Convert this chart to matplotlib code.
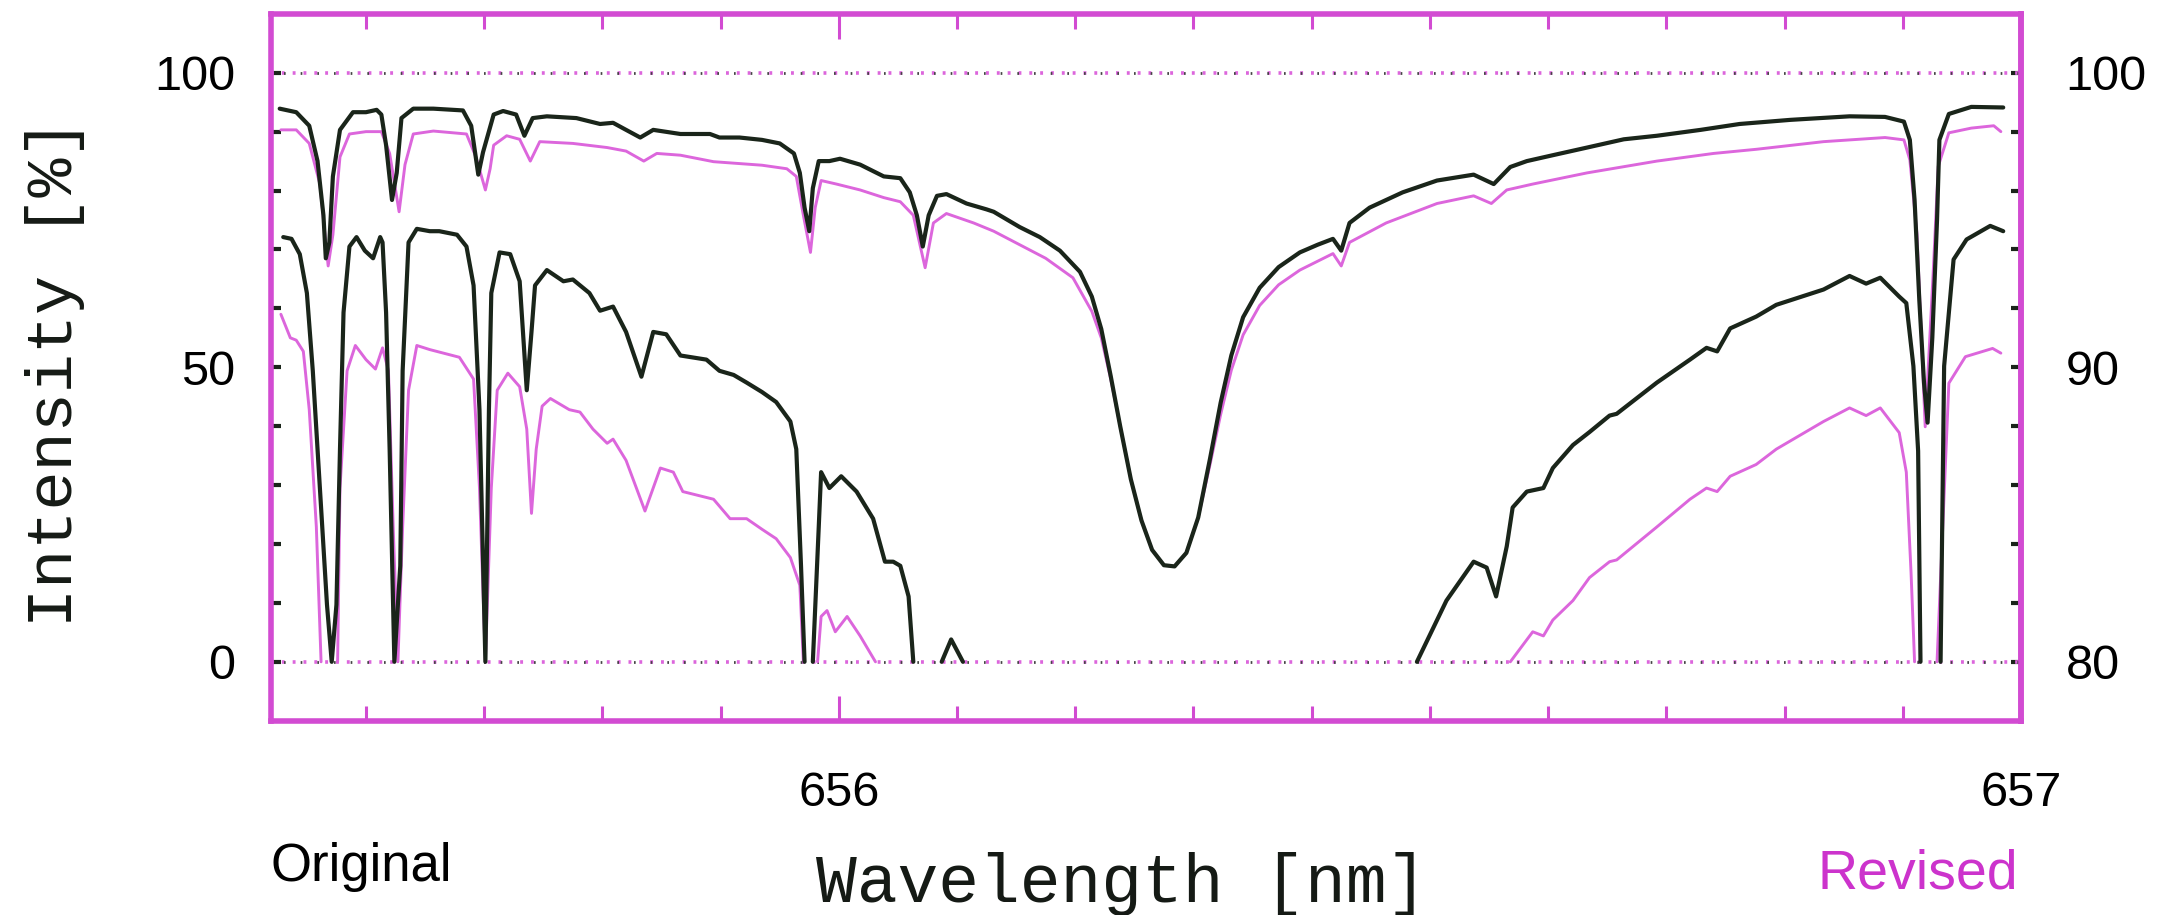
import numpy as np
import matplotlib.pyplot as plt

# H-alpha spectrum.
# upper curves: intensity in % (left axis)
upper_black = [
    (655.527, 93.9), (655.541, 93.3), (655.552, 91.0), (655.559, 85.0), (655.564, 75.8),
    (655.566, 68.5), (655.569, 71.2), (655.572, 82.4), (655.578, 90.3), (655.589, 93.3),
    (655.600, 93.3), (655.609, 93.7), (655.613, 92.9), (655.617, 87.7), (655.622, 78.4),
    (655.626, 83.0), (655.630, 92.3), (655.640, 93.9), (655.657, 93.9), (655.682, 93.6),
    (655.689, 91.0), (655.695, 82.7), (655.699, 86.5), (655.708, 92.9), (655.716, 93.5),
    (655.727, 92.9), (655.734, 89.3), (655.741, 92.3), (655.753, 92.6), (655.778, 92.3),
    (655.798, 91.3), (655.809, 91.5), (655.820, 90.3), (655.832, 89.0), (655.843, 90.3),
    (655.866, 89.6), (655.891, 89.6), (655.899, 89.0), (655.916, 89.0), (655.935, 88.6),
    (655.950, 88.0), (655.962, 86.3), (655.967, 83.0), (655.971, 77.1), (655.975, 73.1),
    (655.978, 80.4), (655.983, 85.0), (655.992, 85.0), (656.001, 85.4), (656.018, 84.4),
    (656.038, 82.4), (656.052, 82.1), (656.060, 79.7), (656.066, 75.8), (656.071, 70.5),
    (656.076, 75.8), (656.083, 79.1), (656.091, 79.4), (656.108, 77.8), (656.125, 76.8),
    (656.131, 76.4), (656.153, 73.8), (656.170, 72.1), (656.187, 69.8), (656.204, 66.2),
    (656.214, 62.0), (656.222, 56.5), (656.230, 48.5), (656.238, 40.0), (656.247, 31.0),
    (656.256, 24.0), (656.265, 19.0), (656.275, 16.4), (656.284, 16.2), (656.294, 18.5),
    (656.304, 24.5), (656.314, 34.5), (656.323, 44.0), (656.332, 52.0), (656.342, 58.5),
    (656.356, 63.5), (656.372, 67.0), (656.390, 69.5), (656.405, 70.8), (656.418, 71.8),
    (656.425, 69.8), (656.432, 74.5),
    (656.449, 77.1), (656.477, 79.7), (656.506, 81.7), (656.537, 82.7), (656.554, 81.1),
    (656.568, 84.0), (656.582, 85.0), (656.604, 86.0), (656.633, 87.3), (656.664, 88.7),
    (656.692, 89.3), (656.729, 90.3), (656.762, 91.3), (656.805, 92.0), (656.855, 92.6),
    (656.885, 92.5), (656.901, 91.7), (656.906, 88.6), (656.910, 78.4), (656.914, 61.4),
    (656.918, 47.3), (656.921, 40.6), (656.925, 55.0), (656.929, 75.0), (656.931, 88.6),
    (656.939, 93.0), (656.958, 94.2), (656.985, 94.1),
]

upper_magenta = [
    (655.528, 90.3), (655.541, 90.3), (655.552, 88.0), (655.561, 81.1), (655.568, 67.2),
    (655.572, 72.5), (655.578, 85.7), (655.586, 89.6), (655.600, 90.0), (655.613, 90.0),
    (655.620, 86.3), (655.628, 76.4), (655.633, 84.4), (655.640, 89.6), (655.657, 90.1),
    (655.685, 89.6), (655.693, 85.7), (655.701, 80.1), (655.705, 83.7), (655.708, 87.7),
    (655.719, 89.3), (655.730, 88.7), (655.739, 85.0), (655.747, 88.3), (655.775, 88.0),
    (655.804, 87.3), (655.820, 86.7), (655.835, 85.0), (655.846, 86.3), (655.866, 86.0),
    (655.894, 84.9), (655.935, 84.3), (655.956, 83.7), (655.964, 82.4), (655.970, 75.8),
    (655.976, 69.5), (655.980, 77.1), (655.985, 81.7), (655.998, 81.1), (656.018, 80.1),
    (656.038, 78.8), (656.052, 78.1), (656.063, 75.8), (656.073, 66.9), (656.080, 74.5),
    (656.091, 76.1), (656.114, 74.5), (656.131, 73.1), (656.153, 70.8), (656.175, 68.5),
    (656.198, 65.2), (656.214, 59.5), (656.222, 55.0), (656.230, 48.0), (656.238, 40.0),
    (656.247, 31.0), (656.256, 24.0), (656.265, 19.0), (656.275, 16.4), (656.284, 16.2),
    (656.294, 18.5), (656.304, 24.5), (656.314, 33.5), (656.323, 42.0), (656.332, 49.5),
    (656.342, 55.5), (656.356, 60.5), (656.372, 64.0), (656.390, 66.5), (656.405, 68.0),
    (656.418, 69.3), (656.425, 67.2), (656.432, 71.2), (656.463, 74.5),
    (656.506, 77.8), (656.537, 79.1), (656.552, 77.8), (656.565, 80.1), (656.587, 81.1),
    (656.633, 83.0), (656.692, 85.0), (656.740, 86.3), (656.776, 87.0), (656.833, 88.3),
    (656.885, 89.0), (656.901, 88.6), (656.906, 85.2), (656.912, 72.7), (656.919, 39.9),
    (656.926, 67.1), (656.930, 84.1), (656.939, 89.8), (656.958, 90.6), (656.977, 91.0),
    (656.983, 90.0),
]

# lower curves: same spectrum on the magnified 80-100 % scale (right axis),
# stored in left-axis units as drawn; nan = off scale (below 80 %)
nan = np.nan
lower_black = [
    (655.530, 72.1), (655.537, 71.8), (655.544, 69.2), (655.550, 62.6), (655.555, 49.4),
    (655.561, 29.5), (655.567, 9.7), (655.571, 0.0), (655.575, 9.7), (655.578, 36.1),
    (655.581, 59.3), (655.586, 70.5), (655.592, 72.1), (655.599, 69.8), (655.606, 68.5),
    (655.612, 72.1), (655.614, 71.2), (655.617, 59.3), (655.620, 36.1), (655.624, 0.0),
    (655.629, 16.3), (655.631, 49.4), (655.636, 71.2), (655.643, 73.5), (655.654, 73.1),
    (655.662, 73.1), (655.677, 72.5), (655.685, 70.5), (655.691, 63.9), (655.696, 42.8),
    (655.701, 0.0), (655.704, 42.8), (655.706, 62.6), (655.713, 69.5), (655.722, 69.2),
    (655.730, 64.6), (655.736, 46.1), (655.740, 56.0), (655.743, 63.9), (655.753, 66.5),
    (655.767, 64.6), (655.775, 64.9), (655.789, 62.6), (655.798, 59.6), (655.809, 60.3),
    (655.820, 56.0), (655.833, 48.4), (655.843, 56.0), (655.854, 55.6), (655.866, 52.0),
    (655.888, 51.3), (655.899, 49.4), (655.911, 48.7), (655.922, 47.4), (655.935, 45.8),
    (655.947, 44.1), (655.959, 40.8), (655.964, 36.1), (655.968, 16.3), (655.971, 0.0),
    (655.975, nan), (655.978, 0.0), (655.983, 22.9), (655.985, 32.2), (655.992, 29.5),
    (656.002, 31.5), (656.015, 28.9), (656.029, 24.3), (656.039, 17.0), (656.046, 17.0),
    (656.052, 16.3), (656.059, 11.1), (656.063, 0.0), (656.075, nan), (656.087, 0.0),
    (656.095, 3.8), (656.105, 0.0), (656.300, nan), (656.489, 0.0), (656.514, 10.4),
    (656.537, 17.0), (656.548, 16.0), (656.556, 11.1), (656.565, 19.6), (656.570, 26.2),
    (656.582, 28.9), (656.596, 29.5), (656.604, 32.9), (656.621, 36.8), (656.635, 39.0),
    (656.652, 41.8), (656.658, 42.1), (656.692, 47.4), (656.720, 51.3), (656.734, 53.3),
    (656.743, 52.7), (656.754, 56.6), (656.776, 58.6), (656.793, 60.6), (656.833, 63.2),
    (656.855, 65.5), (656.869, 64.2), (656.881, 65.2), (656.897, 62.0), (656.903, 60.9),
    (656.909, 50.2), (656.913, 35.8), (656.915, 0.0), (656.924, nan), (656.932, 0.0),
    (656.935, 50.2), (656.943, 68.3), (656.954, 71.7), (656.974, 74.0), (656.985, 73.1),
]

lower_magenta = [
    (655.528, 59.0), (655.536, 55.0), (655.541, 54.6), (655.547, 52.7), (655.552, 42.8),
    (655.558, 22.9), (655.562, 0.0), (655.569, nan), (655.576, 0.0), (655.578, 29.5),
    (655.584, 49.4), (655.591, 53.7), (655.600, 51.3), (655.608, 49.7), (655.614, 53.3),
    (655.619, 49.4), (655.623, 22.9), (655.627, 0.0), (655.631, 22.9), (655.636, 46.1),
    (655.643, 53.7), (655.654, 53.0), (655.679, 51.7), (655.691, 48.0), (655.696, 29.5),
    (655.701, 0.0), (655.706, 29.5), (655.711, 46.1), (655.720, 49.0), (655.730, 46.7),
    (655.736, 39.5), (655.740, 25.2), (655.744, 36.1), (655.749, 43.4), (655.756, 44.7),
    (655.772, 42.8), (655.781, 42.4), (655.792, 39.5), (655.804, 37.1), (655.809, 37.8),
    (655.820, 34.2), (655.836, 25.6), (655.849, 32.9), (655.860, 32.2), (655.868, 28.9),
    (655.894, 27.6), (655.908, 24.3), (655.922, 24.3), (655.935, 22.5), (655.947, 20.9),
    (655.959, 17.7), (655.967, 13.0), (655.970, 0.0), (655.976, nan), (655.982, 0.0),
    (655.985, 7.7), (655.990, 8.7), (655.997, 5.1), (656.007, 7.7), (656.018, 4.4),
    (656.031, 0.0), (656.300, nan), (656.568, 0.0), (656.587, 5.1), (656.596, 4.4),
    (656.604, 7.1), (656.621, 10.4), (656.635, 14.3), (656.652, 17.0), (656.658, 17.3),
    (656.692, 22.9), (656.720, 27.6), (656.734, 29.5), (656.743, 28.9), (656.754, 31.5),
    (656.776, 33.5), (656.793, 36.1), (656.833, 40.8), (656.855, 43.1), (656.869, 41.8),
    (656.881, 43.1), (656.897, 38.9), (656.903, 32.2), (656.907, 15.2), (656.910, 0.0),
    (656.920, nan), (656.929, 0.0), (656.939, 47.3), (656.953, 51.8), (656.976, 53.2),
    (656.983, 52.4),
]

x_major = [656, 657]
x_minor = [655.6, 655.7, 655.8, 655.9, 656.1, 656.2, 656.3, 656.4, 656.5, 656.6, 656.7, 656.8, 656.9]
y_major = [0, 50, 100]
y_right_major = [80, 90, 100]

BLACK = '#1a251a'
MAG = '#dc66dc'
FRAME = '#d24bd2'
TEXT_MAG = '#cc33cc'

fig = plt.figure(figsize=(21.61, 9.15), dpi=100)
ax = fig.add_axes([0.1256, 0.2123, 0.8096, 0.7726])

# reference lines at 0 and 100 (dotted, mixed black / magenta like the scan)
for lev in (0, 100):
    ax.axhline(lev, color=MAG, lw=2.6, ls=(0, (0.8, 2.2)))
    ax.axhline(lev, color='#444444', lw=2.0, ls=(1.5, (0.6, 5.4)))

for data, col, lw in ((upper_magenta, MAG, 2.1), (upper_black, BLACK, 3.0),
                      (lower_magenta, MAG, 2.1), (lower_black, BLACK, 3.0)):
    xs, ys = np.array(data).T
    ax.plot(xs, ys, color=col, lw=lw, solid_joinstyle='round', solid_capstyle='round')

ax.set_xlim(655.52, 657.0)
ax.set_ylim(-10, 110)

for s in ax.spines.values():
    s.set_color(FRAME)
    s.set_linewidth(4.0)

tick_font = {'family': 'Liberation Sans', 'size': 35}
ax.set_xticks(x_major)
ax.set_xticklabels([str(v) for v in x_major], fontdict=tick_font)
ax.set_xticks(x_minor, minor=True)
ax.set_yticks(y_major)
ax.set_yticklabels([str(v) for v in y_major], fontdict=tick_font)
ax.set_yticks(np.arange(0, 101, 10), minor=True)

ax.tick_params(axis='x', which='both', direction='in', top=True, bottom=True,
               color=FRAME, width=2.2, pad=36)
ax.tick_params(axis='x', which='major', length=18)
ax.tick_params(axis='x', which='minor', length=11)
ax.tick_params(axis='y', which='both', direction='in', left=True, right=False,
               color=BLACK, width=3, length=7, pad=26)

sec = ax.secondary_yaxis('right', functions=(lambda v: 80 + v / 5, lambda r: (r - 80) * 5))
sec.set_yticks(y_right_major)
sec.set_yticklabels([str(v) for v in y_right_major], fontdict=tick_font)
sec.set_yticks(np.arange(80, 101, 2), minor=True)
sec.tick_params(axis='y', which='both', direction='in', color=BLACK, width=3, length=7, pad=32)
sec.spines['right'].set_color(FRAME)
sec.spines['right'].set_linewidth(4.0)

label_font = {'family': 'Liberation Mono', 'color': '#151a15'}
fig.text(0.519, 0.034, 'Wavelength [nm]', ha='center', va='center', size=49, fontdict=label_font)
fig.text(0.0255, 0.593, 'Intensity [%]', ha='center', va='center', rotation=90,
         size=47, fontdict=label_font)

fig.text(0.1254, 0.052, 'Original', ha='left', va='center',
         family='Liberation Sans', size=38, color='black')
fig.text(0.934, 0.044, 'Revised', ha='right', va='center',
         family='Liberation Sans', size=40, color=TEXT_MAG)

fig.savefig('out.png', dpi=100)
